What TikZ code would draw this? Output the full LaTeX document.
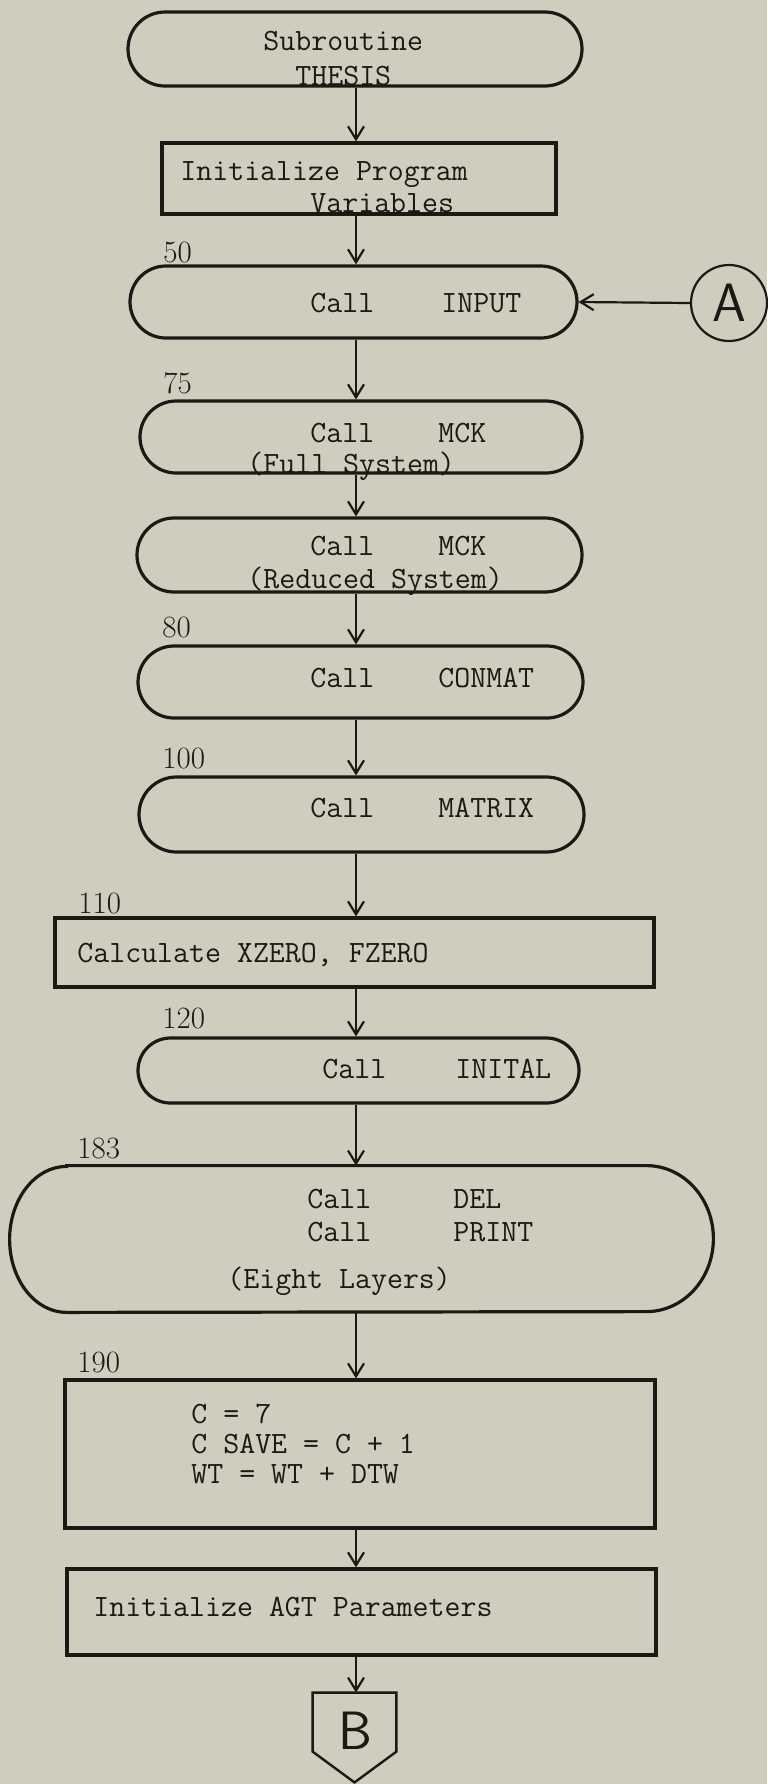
\documentclass[tikz,border=0pt]{standalone}
\usepackage{fontspec}
\usetikzlibrary{shapes.misc,arrows.meta,calc}
\definecolor{paper}{RGB}{207,205,190}
\definecolor{ink}{RGB}{28,24,20}
\begin{document}
\begin{tikzpicture}[x=0.5pt,y=-0.5pt,
  box/.style={draw=ink, line width=1.6pt, inner sep=0pt},
  term/.style={box, rounded rectangle},
  proc/.style={box, rectangle},
  ghost/.style={rectangle, inner sep=0pt},
  tt/.style={text=ink, inner sep=0pt, anchor=base west, font=\fontsize{15.5}{16}\selectfont\ttfamily\addfontfeatures{FakeBold=0.4}},
  lbl/.style={text=ink, inner sep=0pt, anchor=base west, font=\fontsize{15.5}{16}\selectfont\rmfamily},
  letter/.style={text=ink, inner sep=0pt, font=\fontsize{27}{27}\selectfont\sffamily},
  conn/.style={draw=ink, line width=1.1pt, -{Straight Barb[length=6.5pt,width=8pt,line width=1.1pt]}}
]
\useasboundingbox (0,0) rectangle (767,1784);
\fill[paper] (0,0) rectangle (767,1784);

% shapes
\node[term, minimum width=227pt, minimum height=37pt] (thesis) at (355,49) {};
\node[proc, minimum width=197pt, minimum height=35.5pt] (init) at (359,178.5) {};
\node[term, minimum width=223.5pt, minimum height=36pt] (input) at (353.5,302) {};
\node[term, minimum width=221pt, minimum height=36pt] (mck1) at (361,437) {};
\node[term, minimum width=222.5pt, minimum height=37pt] (mck2) at (359.5,555) {};
\node[term, minimum width=222.5pt, minimum height=36pt] (conmat) at (360.5,682) {};
\node[term, minimum width=222.5pt, minimum height=37.5pt] (matrix) at (361.5,814.5) {};
\node[proc, minimum width=299.5pt, minimum height=34.5pt] (calc) at (354.5,952.5) {};
\node[term, minimum width=220.5pt, minimum height=32.5pt] (inital) at (358.5,1070.5) {};
\node[ghost, minimum width=351.5pt, minimum height=73pt] (del) at (361.5,1239) {};
\draw[box] ($(del.north west)+(57,0)$) -- ($(del.north east)+(-67,0)$)
  arc[start angle=-90,end angle=90,x radius=67,y radius=73]
  -- ($(del.south west)+(57,0)$)
  arc[start angle=90,end angle=270,x radius=57,y radius=73] -- cycle;
\node[proc, minimum width=295pt, minimum height=74pt] (b190) at (360,1454) {};
\node[proc, minimum width=294.5pt, minimum height=43pt] (agt) at (361.5,1612) {};
\node[ghost, minimum width=41.5pt, minimum height=44.5pt] (B) at (354.5,1737.5) {};
\draw[box, line width=1.2pt] (B.north west) -- (B.north east) -- ($(B.north east)+(0,59)$)
  -- (B.south) -- ($(B.north west)+(0,59)$) -- cycle;
\node[letter] (bl) at (355,1731) {B};
\node[circle, draw=ink, line width=1.1pt, minimum size=38pt, inner sep=0pt] (A) at (729,303) {};
\node[letter] (al) at (729,303) {A};

% texts
\node[tt] (t1) at (263,50) {Subroutine};
\node[tt] (t2) at (295,85) {THESIS};
\node[tt] (t3) at (180,180) {Initialize Program};
\node[tt] (t4) at (310,212) {Variables};
\node[tt] (t5) at (310,312) {Call};
\node[tt] (t6) at (441,312) {INPUT};
\node[tt] (t7) at (310,442) {Call};
\node[tt] (t8) at (438,442) {MCK};
\node[tt] (t9) at (247,473) {(Full System)};
\node[tt] (t10) at (310,555) {Call};
\node[tt] (t11) at (438,555) {MCK};
\node[tt] (t12) at (247,588) {(Reduced System)};
\node[tt] (t13) at (310,687) {Call};
\node[tt] (t14) at (438,687) {CONMAT};
\node[tt] (t15) at (310,817) {Call};
\node[tt] (t16) at (438,817) {MATRIX};
\node[tt] (t17) at (77,962) {Calculate XZERO, FZERO};
\node[tt] (t18) at (322,1078) {Call};
\node[tt] (t19) at (455,1078) {INITAL};
\node[tt] (t20) at (307,1208) {Call};
\node[tt] (t21) at (453,1208) {DEL};
\node[tt] (t22) at (307,1241) {Call};
\node[tt] (t23) at (453,1241) {PRINT};
\node[tt] (t24) at (227,1288) {(Eight Layers)};
\node[tt] (t25) at (191,1423) {C = 7};
\node[tt] (t26) at (191,1453) {C SAVE = C + 1};
\node[tt] (t27) at (191,1483) {WT = WT + DTW};
\node[tt] (t28) at (93,1616) {Initialize AGT Parameters};

% statement numbers
\node[lbl] (n50) at (163,262) {50};
\node[lbl] (n75) at (163,393) {75};
\node[lbl] (n80) at (162,637) {80};
\node[lbl] (n100) at (162,768) {100};
\node[lbl] (n110) at (78,913) {110};
\node[lbl] (n120) at (162,1028) {120};
\node[lbl] (n183) at (77,1158) {183};
\node[lbl] (n190) at (77,1372) {190};

% connectors
\coordinate (ax) at (356,0);
\draw[conn] (thesis.south -| ax) -- (init.north -| ax);
\draw[conn] (init.south -| ax) -- (input.north -| ax);
\draw[conn] (input.south -| ax) -- (mck1.north -| ax);
\draw[conn] (mck1.south -| ax) -- (mck2.north -| ax);
\draw[conn] (mck2.south -| ax) -- (conmat.north -| ax);
\draw[conn] (conmat.south -| ax) -- (matrix.north -| ax);
\draw[conn] (matrix.south -| ax) -- (calc.north -| ax);
\draw[conn] (calc.south -| ax) -- (inital.north -| ax);
\draw[conn] (inital.south -| ax) -- (del.north -| ax);
\draw[conn] (del.south -| ax) -- (b190.north -| ax);
\draw[conn] (b190.south -| ax) -- (agt.north -| ax);
\draw[conn] (agt.south -| ax) -- (B.north -| ax);
\draw[conn] (A.west) -- (input.east);
\end{tikzpicture}
\end{document}
